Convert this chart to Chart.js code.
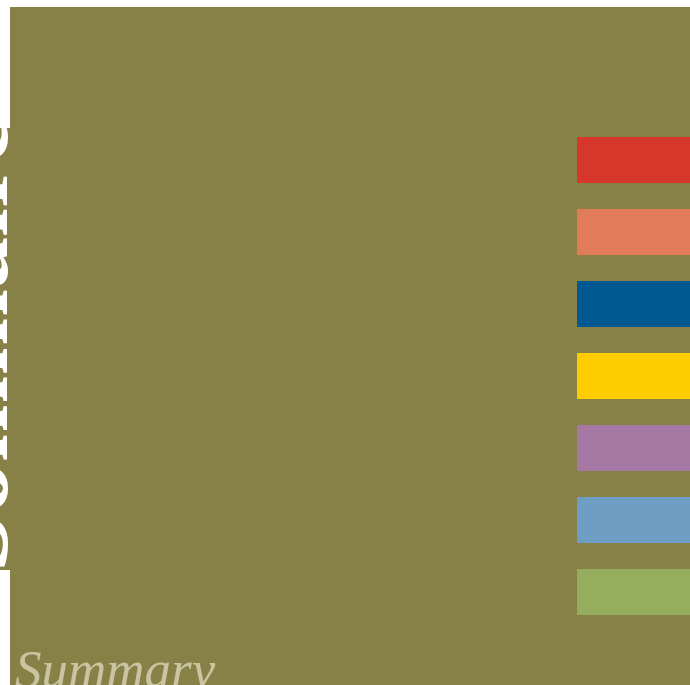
<!DOCTYPE html>
<html>
<head>
<meta charset="utf-8">
<script src="https://cdn.jsdelivr.net/npm/chart.js@4/dist/chart.umd.min.js"></script>
<style>
  html, body { margin: 0; padding: 0; background: #fff; }
  #page { position: relative; width: 690px; height: 685px; overflow: hidden; background: #fff; }
  #panel { position: absolute; left: 10px; top: 7px; width: 680px; height: 678px; background: #878047; }
  #strip { position: absolute; left: 0; top: 128px; width: 10px; height: 442px; background: #878047; }
  #sideTitle {
    position: absolute; left: -80px; top: 572px;
    font-family: "Liberation Serif", serif; font-weight: bold; font-size: 104px;
    line-height: 1; color: #fff; white-space: nowrap;
    transform: rotate(-90deg); transform-origin: 0 0;
  }
  #summary {
    position: absolute; left: 15px; top: 643px;
    font-family: "Liberation Serif", serif; font-style: italic; font-size: 53px;
    line-height: 1; color: #c9c5a0; white-space: nowrap;
  }
  #chartBox { position: absolute; left: 577px; top: 124px; width: 113px; height: 504px; }
</style>
</head>
<body>
<div id="page">
  <div id="panel"></div>
  <div id="strip"></div>
  <div id="sideTitle">Sommaire</div>
  <div id="summary">Summary</div>
  <div id="chartBox"><canvas id="swatches"></canvas></div>
</div>
<script>
// --- Data ---
const categories = ['Rouge', 'Saumon', 'Bleu', 'Jaune', 'Violet', 'Bleu clair', 'Vert'];
const barValues = [1, 1, 1, 1, 1, 1, 1];
const barColors = ['#d7372a', '#e27b5a', '#005a91', '#ffcc00', '#a679a4', '#709dc3', '#94ae5d'];

const ctx = document.getElementById('swatches').getContext('2d');

new Chart(ctx, {
    type: 'bar',
    data: {
        labels: categories,
        datasets: [{
            data: barValues,
            backgroundColor: barColors,
            borderWidth: 0,
            barPercentage: 46 / 72,
            categoryPercentage: 1
        }]
    },
    options: {
        indexAxis: 'y',
        responsive: true,
        maintainAspectRatio: false,
        animation: false,
        layout: { padding: 0 },
        plugins: { legend: { display: false }, tooltip: { enabled: false } },
        scales: {
            x: { display: false, min: 0, max: 1 },
            y: { display: false }
        }
    }
});
</script>
</body>
</html>
